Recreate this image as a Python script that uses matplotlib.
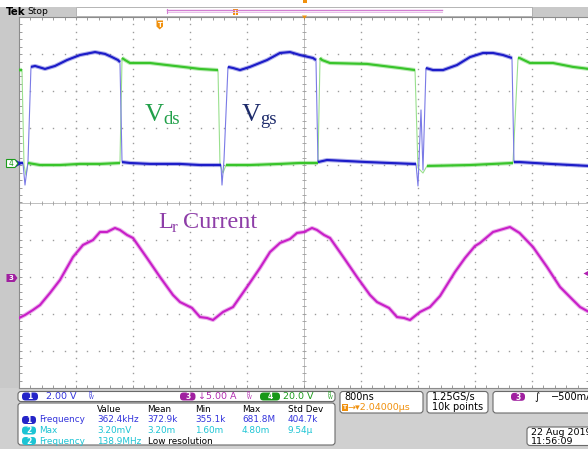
#!/usr/bin/env python3
# -*- coding: utf-8 -*-
"""scope capture: Vds / Vgs and resonant inductor current (Tek screen)"""

import matplotlib
matplotlib.use("Agg")
import matplotlib.pyplot as plt
from matplotlib.patches import FancyBboxPatch, Rectangle, Polygon
import numpy as np

# -----------------------------------------------------------------------------

# scope settings (time in us, one division = 800 ns)
T_DIV = 0.8
CH1_SCALE, CH1_POS = 2.0, 1.065    # Vgs   [V/div, div]
CH4_SCALE, CH4_POS = 20.0, 1.065   # Vds   [V/div, div]
CH3_SCALE, CH3_POS = 5.0, -2.035   # I(Lr) [A/div, div]

# traces as pieces of (t [us], value); pieces are joined by the fast edges
vgs_pieces = [
    [(0.000, 0.00), (0.056, 0.00)],
    [(0.084, -1.19)],
    [(0.126, 0.05)],
    [(0.168, 5.18), (0.225, 5.23), (0.365, 5.07), (0.505, 5.23), (0.674, 5.55),
     (0.856, 5.82), (1.067, 5.98), (1.207, 5.88), (1.305, 5.71), (1.389, 5.55), (1.417, 5.44)],
    [(1.446, 0.05), (1.558, 0.00), (1.839, -0.05), (2.260, -0.05), (2.540, -0.11), (2.835, -0.11)],
    [(2.849, -1.19)],
    [(2.877, 0.16)],
    [(2.933, 5.18), (3.004, 5.12), (3.102, 5.01), (3.242, 5.18), (3.481, 5.55),
     (3.663, 5.93), (3.804, 5.98), (3.944, 5.82), (4.126, 5.66), (4.168, 5.55)],
    [(4.196, 0.05), (4.323, 0.16), (4.884, 0.05), (5.530, -0.05), (5.572, -0.05)],
    [(5.600, -1.24)],
    [(5.642, 2.86)],
    [(5.670, -0.38)],
    [(5.712, 5.12), (5.811, 5.01), (5.951, 5.01), (6.147, 5.28), (6.330, 5.71),
     (6.512, 5.93), (6.653, 5.93), (6.793, 5.82), (6.919, 5.66)],
    [(6.947, 0.05), (7.025, 0.05), (7.453, -0.05), (8.000, -0.16)],
]

vds_pieces = [
    [(0.000, 50.1), (0.042, 50.1)],
    [(0.070, -1.1)],
    [(0.098, -6.5)],
    [(0.126, 0.0), (0.295, -1.1), (0.575, -1.1), (0.856, -0.5), (1.137, -0.5), (1.417, 0.0)],
    [(1.446, 56.6), (1.488, 55.5), (1.558, 53.9), (1.839, 53.9), (2.077, 52.8),
     (2.302, 51.8), (2.540, 50.7), (2.793, 50.1)],
    [(2.821, -1.1)],
    [(2.863, -5.4)],
    [(2.905, -1.1), (3.242, -1.1), (3.663, -0.5), (3.944, 0.0), (4.196, 0.0)],
    [(4.225, 56.6), (4.253, 55.5), (4.365, 53.9), (4.884, 53.4), (5.347, 51.2), (5.558, 50.1)],
    [(5.600, -2.7)],
    [(5.670, -5.4)],
    [(5.726, -1.6), (6.330, -1.1), (6.933, 0.0)],
    [(7.004, 56.6), (7.025, 56.6), (7.172, 53.9), (7.495, 53.9), (7.775, 51.8), (8.000, 50.7)],
]

ilr_t = [0.000, 0.084, 0.196, 0.295, 0.435, 0.575, 0.758, 0.898, 1.039, 1.137,
         1.235, 1.347, 1.417, 1.516, 1.600, 1.796, 1.979, 2.161, 2.260, 2.428,
         2.540, 2.639, 2.723, 2.863, 3.004, 3.200, 3.382, 3.523, 3.663, 3.804,
         3.902, 4.000, 4.112, 4.182, 4.281, 4.365, 4.561, 4.744, 4.926, 5.025,
         5.193, 5.305, 5.404, 5.488, 5.628, 5.768, 5.909, 6.119, 6.260, 6.400,
         6.470, 6.653, 6.891, 7.025, 7.214, 7.411, 7.593, 7.775, 7.874, 8.000]
ilr_a = [-5.39, -4.99, -4.31, -3.64, -2.02, -0.27, 2.83, 4.45, 5.12, 6.20,
         6.20, 6.74, 6.47, 5.80, 5.39, 2.70, 0.13, -2.29, -3.24, -4.04,
         -5.26, -5.39, -5.66, -4.58, -3.91, -1.21, 1.35, 3.50, 4.72, 5.26,
         6.07, 6.20, 6.74, 6.47, 5.80, 5.39, 2.70, 0.13, -2.29, -3.24,
         -4.04, -5.26, -5.39, -5.66, -4.58, -3.91, -2.43, 0.81, 2.70, 4.31,
         4.72, 6.20, 6.87, 6.07, 4.18, 1.48, -1.21, -2.97, -3.91, -4.58]

# readouts
meas_header = ["Value", "Mean", "Min", "Max", "Std Dev"]
meas_names = ["Frequency", "Max", "Frequency"]
meas_src = ["1", "2", "2"]
meas_rows = [["362.4kHz", "372.9k", "355.1k", "681.8M", "404.7k"],
             ["3.20mV", "3.20m", "1.60m", "4.80m", "9.54\u00b5"],
             ["138.9MHz"]]

# colours
BLUE, BLUE_E = "#1c1cc8", "#7a7ae6"
GREEN, GREEN_E = "#38c42a", "#9ae08e"
MAG = "#c81ec8"
GRID = "#9c9c9c"
GRAY = "#c9c9c9"
T_BLUE, T_CYAN, T_PURP, T_GRN, T_ORG = "#3434dc", "#1cc4d4", "#b02cb0", "#1c9c1c", "#f0900c"

W, H = 588, 449

# -----------------------------------------------------------------------------

def draw_trace(ax, pieces, scale, pos, color, edge_color):
    """thin line through all points, thick line on each flat piece"""
    t = [p[0] for piece in pieces for p in piece]
    y = [p[1] / scale + pos for piece in pieces for p in piece]
    ax.plot(t, y, color=edge_color, lw=0.8, zorder=3)
    for piece in pieces:
        if len(piece) > 1:
            pt = [p[0] for p in piece]
            py = [p[1] / scale + pos for p in piece]
            ax.plot(pt, py, color=color, lw=3.0, alpha=0.35, zorder=3, solid_capstyle="butt")
            ax.plot(pt, py, color=color, lw=1.5, zorder=4, solid_capstyle="butt")


def pill(ax, x0, y0, w, h, color, label, fs=5.5):
    ax.add_patch(FancyBboxPatch((x0, y0), w, h, boxstyle="round,pad=0,rounding_size=3.5",
                                fc=color, ec="none"))
    ax.text(x0 + w / 2, y0 + h / 2 + 0.3, label, color="white", fontsize=fs,
            fontweight="bold", ha="center", va="center")


def box(ax, x0, y0, w, h):
    ax.add_patch(FancyBboxPatch((x0, y0), w, h, boxstyle="round,pad=0,rounding_size=3",
                                fc="white", ec="#6a6a6a", lw=0.8))


def txt(ax, x, y, s, color="black", fs=6.4, **kw):
    ax.text(x, y, s, color=color, fontsize=fs, ha="left", va="center", **kw)

# -----------------------------------------------------------------------------

fig = plt.figure(figsize=(W / 100, H / 100), dpi=100, facecolor="white")

# background chrome in pixel coordinates
bg = fig.add_axes([0, 0, 1, 1], zorder=0)
bg.set_xlim(0, W)
bg.set_ylim(H, 0)
bg.axis("off")
bg.add_patch(Rectangle((0, 7), 19, H - 7, fc=GRAY, ec="none"))
bg.add_patch(Rectangle((0, 388), W, H - 388, fc="#d0d0d0", ec="none"))
bg.add_patch(Rectangle((0, 7), 76, 9.5, fc=GRAY, ec="none"))
bg.add_patch(Rectangle((532, 7), 56, 9.5, fc=GRAY, ec="none"))
bg.add_patch(Rectangle((76, 7), 456, 8.5, fc="white", ec="#a8a8a8", lw=0.6))

# graticule
sc = fig.add_axes([19 / W, (H - 388) / H, 570 / W, 371 / H], zorder=1)
sc.set_xlim(0, 8)
sc.set_ylim(-5, 5)
sc.set_xticks([])
sc.set_yticks([])
sc.set_facecolor("white")
for s in sc.spines.values():
    s.set_color("#8c8c8c")
    s.set_linewidth(0.8)

ydots = np.arange(-5, 5.001, 0.2)
xdots = np.arange(0, 8.001, 0.16)
for k in range(1, 10):
    if k != 5:
        sc.plot(np.full_like(ydots, k * T_DIV), ydots, ls="none", marker="s",
                ms=1.0, mew=0, color=GRID, zorder=1)
for k in range(-4, 5):
    if k != 0:
        sc.plot(xdots, np.full_like(xdots, k), ls="none", marker="s",
                ms=1.0, mew=0, color=GRID, zorder=1)
sc.axhline(0, color="#b4b4b4", lw=0.6, zorder=1)
sc.axvline(4.0, color="#b4b4b4", lw=0.6, zorder=1)
sc.plot(xdots, np.zeros_like(xdots), ls="none", marker="|", ms=3.5, mew=0.6, color=GRID, zorder=1)
sc.plot(np.full_like(ydots, 4.0), ydots, ls="none", marker="_", ms=3.5, mew=0.6, color=GRID, zorder=1)
for yy in (-5, 5):
    sc.plot(xdots, np.full_like(xdots, yy), ls="none", marker="|", ms=4.5, mew=0.6, color="#8c8c8c", zorder=1)
for xx in (0, 8):
    sc.plot(np.full_like(ydots, xx), ydots, ls="none", marker="_", ms=4.5, mew=0.6, color="#8c8c8c", zorder=1)

# waveforms
draw_trace(sc, vds_pieces, CH4_SCALE, CH4_POS, GREEN, GREEN_E)
draw_trace(sc, vgs_pieces, CH1_SCALE, CH1_POS, BLUE, BLUE_E)
ilr_y = np.array(ilr_a) / CH3_SCALE + CH3_POS
sc.plot(ilr_t, ilr_y, color=MAG, lw=3.0, alpha=0.35, zorder=4)
sc.plot(ilr_t, ilr_y, color=MAG, lw=1.5, zorder=5)

# overlay: labels, markers and readouts
ov = fig.add_axes([0, 0, 1, 1], zorder=2)
ov.set_xlim(0, W)
ov.set_ylim(H, 0)
ov.axis("off")
ov.patch.set_alpha(0)

serif = "Liberation Serif"
ov.text(145, 121, "V", fontsize=19, family=serif, color="#22a04a", va="baseline")
ov.text(163.5, 124, "ds", fontsize=13.5, family=serif, color="#22a04a", va="baseline")
ov.text(242, 121, "V", fontsize=19, family=serif, color="#1d2b6b", va="baseline")
ov.text(260.5, 124, "gs", fontsize=13.5, family=serif, color="#1d2b6b", va="baseline")
ov.text(158, 228, "L", fontsize=17.5, family=serif, color="#8e3ea8", va="baseline")
ov.text(171.5, 232, "r", fontsize=12.5, family=serif, color="#8e3ea8", va="baseline")
ov.text(183, 228, "Current", fontsize=17.5, family=serif, color="#8e3ea8", va="baseline")

# top bar
ov.text(6, 11.8, "Tek", fontsize=7.4, fontweight="bold", va="center")
ov.text(27, 11.8, "Stop", fontsize=6.6, va="center")
ov.plot([167, 442], [10.3, 10.3], color="#d27ed2", lw=1.0)
ov.plot([167, 442], [12.0, 12.0], color="#e8bde8", lw=0.7)
ov.plot([167, 167], [8.5, 12.5], color="#d27ed2", lw=0.8)
ov.add_patch(Rectangle((232.5, 8.5), 5, 6, fc=T_ORG, ec="none"))
ov.plot([235, 235], [9.5, 13.5], color="white", lw=0.6)
ov.add_patch(Rectangle((302.5, 0), 4, 3, fc=T_ORG, ec="none"))
ov.add_patch(Polygon([(302, 15.5), (307, 15.5), (304.5, 19)], fc=T_ORG, ec="none"))
ov.add_patch(Polygon([(156.5, 20.5), (163, 20.5), (163, 26.5), (159.7, 29.5), (156.5, 26.5)],
                     fc=T_ORG, ec="none"))
ov.text(159.8, 24.8, "T", color="white", fontsize=4.8, fontweight="bold", ha="center", va="center")

# channel markers
ov.add_patch(Polygon([(16, 160), (22, 163.5), (16, 167)], fc=BLUE, ec="none"))
ov.add_patch(Polygon([(6.5, 159.5), (15, 159.5), (18, 163.5), (15, 167.5), (6.5, 167.5)],
                     fc="white", ec=T_GRN, lw=0.8))
ov.text(11.5, 163.8, "4", color=T_GRN, fontsize=5.5, ha="center", va="center")
ov.add_patch(Polygon([(6.5, 274), (14.5, 274), (17.5, 278), (14.5, 282), (6.5, 282)],
                     fc="#a020a0", ec="none"))
ov.text(11, 278.3, "3", color="white", fontsize=5, fontweight="bold", ha="center", va="center")
ov.add_patch(Polygon([(589, 270.5), (583.5, 273.5), (589, 276.5)], fc="#b020b0", ec="none"))

# channel row
box(ov, 18, 391.5, 317, 10)
pill(ov, 22, 392.5, 16, 8, "#2424c8", "1")
txt(ov, 46, 396.8, "2.00 V", T_BLUE, fs=6.8)
txt(ov, 88, 396.5, r"$^{\mathrm{B}}_{\mathrm{W}}$", T_BLUE, fs=5)
pill(ov, 180, 392.5, 15.5, 8, "#a020a0", "3")
txt(ov, 198, 396.8, "\u21935.00 A", T_PURP, fs=6.8)
txt(ov, 246, 396.5, r"$^{\mathrm{B}}_{\mathrm{W}}$", T_PURP, fs=5)
pill(ov, 260, 392.5, 20, 8, "#189818", "4")
txt(ov, 283, 396.8, "20.0 V", T_GRN, fs=6.8)
txt(ov, 327, 396.5, r"$^{\mathrm{B}}_{\mathrm{W}}$", T_GRN, fs=5)

# measurements
box(ov, 18, 403, 317, 42)
col_x = [97, 147, 195, 242, 288]
for x, s in zip(col_x, meas_header):
    txt(ov, x, 409.5, s)
row_y = [420, 430.5, 441]
row_col = [T_BLUE, T_CYAN, T_CYAN]
pill_col = ["#2424c8", "#1cc4d4", "#1cc4d4"]
for y, name, src, vals, c, pc in zip(row_y, meas_names, meas_src, meas_rows, row_col, pill_col):
    pill(ov, 22, y - 4, 14, 8, pc, src)
    txt(ov, 39, y, name, c)
    for x, s in zip(col_x, vals):
        txt(ov, x, y, s, c)
txt(ov, 147.5, 441, "Low resolution")

# horizontal / acquisition / trigger
box(ov, 340, 391.5, 83, 21.5)
txt(ov, 344, 397, "800ns", fs=7)
ov.add_patch(Rectangle((342, 403.5), 5.5, 7, fc=T_ORG, ec="none"))
ov.text(344.8, 407.2, "T", color="white", fontsize=4.2, fontweight="bold", ha="center", va="center")
txt(ov, 347.5, 407.5, "\u2192\u25be2.04000\u00b5s", T_ORG, fs=6.8)
box(ov, 427, 391.5, 61, 21.5)
txt(ov, 432, 397, "1.25GS/s", fs=7)
txt(ov, 432, 407.5, "10k points", fs=7)
box(ov, 493, 391.5, 100, 21.5)
pill(ov, 511, 392.8, 14, 8, "#a020a0", "3")
txt(ov, 534, 397, "\u222b", fs=7)
txt(ov, 551, 397, "\u2212500mA", fs=7)

# date
box(ov, 527, 427, 70, 18.5)
txt(ov, 531, 432.5, "22 Aug 2019", fs=6.8)
txt(ov, 531, 441.5, "11:56:09", fs=6.8)

plt.savefig("out.png", dpi=100, facecolor="white")
